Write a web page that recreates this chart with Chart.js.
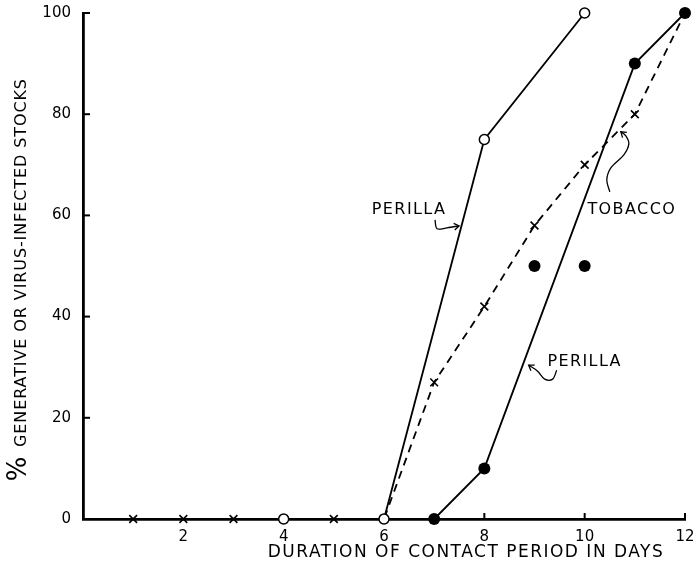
<!DOCTYPE html>
<html>
<head>
<meta charset="utf-8">
<script src="https://cdn.jsdelivr.net/npm/chart.js@4/dist/chart.umd.min.js"></script>
<style>
  html, body { margin: 0; padding: 0; background: #fff; }
  #wrap { width: 697px; height: 568px; position: relative; }
</style>
</head>
<body>
<div id="wrap"><canvas id="c" width="697" height="568"></canvas></div>
<script>
// Contact period in days and the percentage of stocks that turned generative
const perillaOpenDays   = [4, 6, 8, 10];
const perillaOpenPct    = [0, 0, 75, 100];
const perillaFilledDays = [7, 8, 11, 12];
const perillaFilledPct  = [0, 10, 90, 100];
const perillaLooseDays  = [9, 10];
const perillaLoosePct   = [50, 50];
const tobaccoDays       = [1, 2, 3, 4, 5, 6, 7, 8, 9, 10, 11, 12];
const tobaccoPct        = [0, 0, 0, 0, 0, 0, 27, 42, 58, 70, 80, 100];
const xTicks = [2, 4, 6, 8, 10, 12];
const yTicks = [0, 20, 40, 60, 80, 100];

const FONT = "'DejaVu Sans', sans-serif";
const pts = (xs, ys) => xs.map((x, i) => ({ x, y: ys[i] }));

// Curve labels: text, anchor in data units, and the hand-drawn pointer (pixel offsets from the anchor)
const curveLabels = [
  { text: 'PERILLA', x: 6.5, y: 61.1, arrow: [[26, 10], [28, 19], [38, 18], [50, 16]] },
  { text: 'TOBACCO', x: 10.94, y: 61.1, arrow: [[-22, -18], [-25, -30], [-21, -42], [-8, -55], [-3, -66], [-6, -74], [-11, -78]] },
  { text: 'PERILLA', x: 10.0, y: 31.0, arrow: [[-28, 8], [-32, 17], [-40, 17], [-47, 9], [-56, 3]] }
];

function smoothPath(ctx, p) {
  ctx.beginPath();
  ctx.moveTo(p[0][0], p[0][1]);
  for (let i = 0; i < p.length - 1; i++) {
    const p0 = p[i - 1] || p[i], p1 = p[i], p2 = p[i + 1], p3 = p[i + 2] || p2;
    ctx.bezierCurveTo(
      p1[0] + (p2[0] - p0[0]) / 6, p1[1] + (p2[1] - p0[1]) / 6,
      p2[0] - (p3[0] - p1[0]) / 6, p2[1] - (p3[1] - p1[1]) / 6,
      p2[0], p2[1]);
  }
  ctx.stroke();
}

// keep the plot box fixed regardless of how far the end labels overhang
function fixBox(size, key) {
  return s => {
    s[key] = size;
    s.paddingTop = s.paddingBottom = s.paddingLeft = s.paddingRight = 0;
  };
}

const decor = {
  id: 'decor',
  afterDraw(chart) {
    const { ctx, chartArea: a, scales } = chart;
    const xs = scales.x, ys = scales.y;
    ctx.save();
    ctx.strokeStyle = '#000';
    ctx.fillStyle = '#000';

    // inward tick marks
    ctx.lineWidth = 2;
    yTicks.forEach(v => {
      const y = ys.getPixelForValue(v);
      ctx.beginPath(); ctx.moveTo(a.left, y); ctx.lineTo(a.left + 7, y); ctx.stroke();
    });
    [8, 10, 12].forEach(v => {
      const x = xs.getPixelForValue(v);
      ctx.beginPath(); ctx.moveTo(x, a.bottom); ctx.lineTo(x, a.bottom - 6); ctx.stroke();
    });

    // axis titles
    ctx.textAlign = 'center';
    ctx.textBaseline = 'middle';
    ctx.font = '17px ' + FONT;
    ctx.letterSpacing = '1.5px';
    ctx.fillText('DURATION OF CONTACT PERIOD IN DAYS', 466, 553);

    ctx.save();
    ctx.translate(21, 0);
    ctx.rotate(-Math.PI / 2);
    ctx.font = '16px ' + FONT;
    ctx.letterSpacing = '0.9px';
    ctx.textAlign = 'left';
    ctx.fillText('GENERATIVE OR VIRUS-INFECTED STOCKS', -447, 1);
    ctx.font = '26px ' + FONT;
    ctx.letterSpacing = '0px';
    ctx.textAlign = 'center';
    ctx.fillText('%', -469, -2);
    ctx.restore();

    // curve labels with their pointers
    ctx.font = '16px ' + FONT;
    ctx.letterSpacing = '1.4px';
    ctx.lineWidth = 1.3;
    curveLabels.forEach(l => {
      const cx = xs.getPixelForValue(l.x), cy = ys.getPixelForValue(l.y);
      ctx.fillText(l.text, cx, cy);
      const p = l.arrow.map(o => [cx + o[0], cy + o[1]]);
      smoothPath(ctx, p);
      const t = p[p.length - 1], b = p[p.length - 2];
      const ang = Math.atan2(t[1] - b[1], t[0] - b[0]);
      ctx.beginPath();
      ctx.moveTo(t[0] - 6 * Math.cos(ang - 0.6), t[1] - 6 * Math.sin(ang - 0.6));
      ctx.lineTo(t[0], t[1]);
      ctx.lineTo(t[0] - 6 * Math.cos(ang + 0.6), t[1] - 6 * Math.sin(ang + 0.6));
      ctx.stroke();
    });
    ctx.restore();
  }
};

new Chart(document.getElementById('c'), {
  type: 'line',
  data: {
    datasets: [
      {
        label: 'Perilla (open)',
        data: pts(perillaOpenDays, perillaOpenPct),
        borderColor: '#000', borderWidth: 1.8,
        pointStyle: 'circle', pointRadius: 5,
        pointBackgroundColor: '#fff', pointBorderColor: '#000', pointBorderWidth: 1.5,
        tension: 0, clip: false, order: 1
      },
      {
        label: 'Perilla (filled)',
        data: pts(perillaFilledDays, perillaFilledPct),
        borderColor: '#000', borderWidth: 1.8,
        pointStyle: 'circle', pointRadius: 6,
        pointBackgroundColor: '#000', pointBorderColor: '#000', pointBorderWidth: 0,
        tension: 0, clip: false, order: 1
      },
      {
        label: 'Perilla (single)',
        data: pts(perillaLooseDays, perillaLoosePct),
        showLine: false,
        pointStyle: 'circle', pointRadius: 6,
        pointBackgroundColor: '#000', pointBorderColor: '#000', pointBorderWidth: 0,
        clip: false, order: 1
      },
      {
        label: 'Tobacco',
        data: pts(tobaccoDays, tobaccoPct),
        borderColor: '#000', borderWidth: 1.8, borderDash: [8, 6],
        pointStyle: 'crossRot', pointRadius: 5.5,
        pointBorderColor: '#000', pointBorderWidth: 1.6,
        tension: 0, clip: false, order: 2
      }
    ]
  },
  options: {
    responsive: false,
    animation: false,
    devicePixelRatio: 1,
    layout: { padding: { top: 13, right: 12, left: 0, bottom: 0 } },
    plugins: { legend: { display: false }, tooltip: { enabled: false } },
    scales: {
      x: {
        type: 'linear', min: 0, max: 12,
        afterFit: fixBox(49, 'height'),
        afterBuildTicks: s => { s.ticks = xTicks.map(v => ({ value: v })); },
        grid: { display: false, drawTicks: false },
        border: { display: true, color: '#000', width: 2.8 },
        ticks: { color: '#000', font: { family: FONT, size: 15 }, padding: 9 }
      },
      y: {
        type: 'linear', min: 0, max: 100,
        afterFit: fixBox(83, 'width'),
        afterBuildTicks: s => { s.ticks = yTicks.map(v => ({ value: v })); },
        grid: { display: false, drawTicks: false },
        border: { display: true, color: '#000', width: 2.8 },
        ticks: { color: '#000', font: { family: FONT, size: 15 }, padding: 12 }
      }
    }
  },
  plugins: [decor]
});
</script>
</body>
</html>
